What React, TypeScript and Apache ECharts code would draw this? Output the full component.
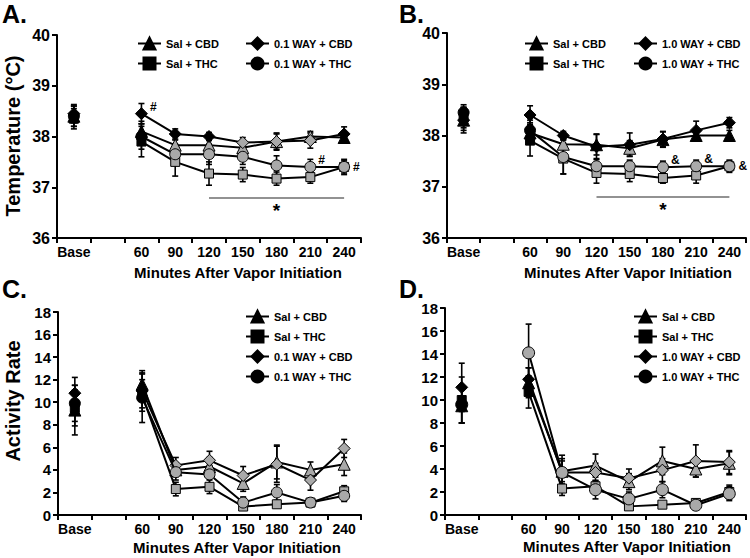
import React, { useEffect, useRef } from 'react';
import * as echarts from 'echarts';

const categories = ['Base', '', '60', '90', '120', '150', '180', '210', '240'];

// ---------- Panel A (0.1 WAY, temperature) ----------
const aSalCbd = [38.4, null, 38.1, 37.83, 37.83, 37.78, 37.9, 38.0, 37.98];
const aSalCbdErr = [0.2, null, 0.2, 0.1, 0.1, 0.1, 0.15, 0.1, 0.08];
const aSalCbdFill = [1, 0, 1, 0, 0, 0, 0, 0, 1];
const aSalThc = [38.35, null, 37.9, 37.5, 37.27, 37.25, 37.17, 37.2, 37.4];
const aSalThcErr = [0.2, null, 0.3, 0.28, 0.23, 0.14, 0.13, 0.12, 0.12];
const aSalThcFill = [1, 0, 1, 0, 0, 0, 0, 0, 0];
const aWayCbd = [38.45, null, 38.45, 38.05, 38.0, 37.88, 37.9, 37.92, 38.05];
const aWayCbdErr = [0.18, null, 0.2, 0.1, 0.08, 0.1, 0.17, 0.15, 0.14];
const aWayCbdFill = [1, 0, 1, 1, 1, 0, 0, 0, 1];
const aWayCbdMark = ['', '', '#', '', '', '', '', '', ''];
const aWayThc = [38.4, null, 38.0, 37.65, 37.65, 37.6, 37.43, 37.4, 37.4];
const aWayThcErr = [0.2, null, 0.25, 0.2, 0.2, 0.15, 0.19, 0.15, 0.15];
const aWayThcFill = [1, 0, 1, 0, 0, 0, 0, 0, 0];
const aWayThcMark = ['', '', '', '', '', '', '', '#', '#'];

// ---------- Panel B (1.0 WAY, temperature) ----------
const bSalCbd = [38.3, null, 38.05, 37.83, 37.82, 37.75, 37.92, 38.0, 38.0];
const bSalCbdErr = [0.2, null, 0.2, 0.1, 0.2, 0.15, 0.15, 0.1, 0.1];
const bSalCbdFill = [1, 0, 1, 0, 1, 0, 1, 1, 1];
const bSalThc = [38.35, null, 37.9, 37.55, 37.27, 37.25, 37.17, 37.22, 37.4];
const bSalThcErr = [0.2, null, 0.3, 0.3, 0.2, 0.15, 0.1, 0.15, 0.1];
const bSalThcFill = [1, 0, 1, 0, 0, 0, 0, 0, 0];
const bWayCbd = [38.3, null, 38.4, 38.0, 37.78, 37.82, 37.93, 38.1, 38.25];
const bWayCbdErr = [0.25, null, 0.18, 0.08, 0.25, 0.23, 0.15, 0.18, 0.1];
const bWayCbdFill = [1, 0, 1, 1, 1, 1, 1, 1, 1];
const bWayThc = [38.45, null, 38.1, 37.58, 37.4, 37.4, 37.38, 37.4, 37.4];
const bWayThcErr = [0.15, null, 0.2, 0.33, 0.15, 0.12, 0.12, 0.12, 0.12];
const bWayThcFill = [1, 0, 1, 0, 0, 0, 0, 0, 0];
const bWayThcMark = ['', '', '', '', '', '', '&', '&', '&'];

// ---------- Panel C (0.1 WAY, activity) ----------
const cSalCbd = [9.3, null, 11.6, 4.0, 4.3, 2.8, 4.7, 4.0, 4.5];
const cSalCbdErr = [2.2, null, 1.2, 0.6, 0.8, 0.7, 1.5, 0.7, 1.0];
const cSalThc = [9.5, null, 10.6, 2.3, 2.5, 0.75, 0.95, 1.1, 2.1];
const cSalThcErr = [1.6, null, 1.4, 0.6, 0.6, 0.2, 0.15, 0.1, 0.5];
const cWayCbd = [10.8, null, 11.0, 4.4, 4.85, 3.5, 4.5, 3.1, 5.9];
const cWayCbdErr = [1.4, null, 1.5, 0.7, 0.8, 0.8, 1.6, 0.9, 0.8];
const cWayThc = [9.9, null, 10.4, 3.8, 3.6, 1.1, 2.0, 1.1, 1.7];
const cWayThcErr = [1.6, null, 2.2, 0.7, 0.8, 0.5, 0.7, 0.15, 0.5];
const cFill = [1, 0, 1, 0, 0, 0, 0, 0, 0];

// ---------- Panel D (1.0 WAY, activity) ----------
const dSalCbd = [9.5, null, 11.5, 3.8, 4.3, 2.9, 4.7, 4.0, 4.5];
const dSalCbdErr = [1.5, null, 1.3, 1.4, 1.0, 0.7, 1.2, 0.7, 1.0];
const dSalThc = [10.0, null, 10.7, 2.3, 2.5, 0.75, 0.9, 1.05, 2.0];
const dSalThcErr = [2.0, null, 1.4, 0.6, 0.5, 0.2, 0.15, 0.1, 0.6];
const dWayCbd = [11.1, null, 11.8, 3.7, 3.7, 3.2, 3.9, 4.7, 4.6];
const dWayCbdErr = [2.1, null, 1.0, 1.2, 0.8, 0.8, 1.0, 1.4, 1.0];
const dWayThc = [9.6, null, 14.1, 3.7, 2.2, 1.4, 2.2, 0.85, 1.85];
const dWayThcErr = [1.6, null, 2.5, 1.0, 0.8, 0.6, 0.7, 0.1, 0.6];
const dFill = [1, 0, 1, 0, 0, 0, 0, 0, 0];
const dWayThcFill = [1, 0, 0, 0, 0, 0, 0, 0, 0];

// significance bar (panels A, B)
const sigFrom = '120';
const sigTo = '240';
const sigLineY = 36.8;
const sigStarAt = '180';
const sigStarY = 36.55;

const FONT = '"Liberation Sans", Arial, Helvetica, sans-serif';
const GRAY = '#a9a9a9';

type S = {
  name: string;
  symbol: string;
  size: number;
  values: (number | null)[];
  errs: (number | null)[];
  fills: number[];
  marks?: string[];
};

const SYM = { tri: 'triangle', sq: 'rect', dia: 'diamond', cir: 'circle' };

function seriesFor(list: S[], gi: number, sig: boolean) {
  const out: any[] = [];
  list.forEach((s) => {
    // error bars
    out.push({
      type: 'custom',
      xAxisIndex: gi,
      yAxisIndex: gi,
      silent: true,
      z: 2,
      data: s.values
        .map((v, i) => (v == null ? null : [i, v - (s.errs[i] as number), v + (s.errs[i] as number)]))
        .filter((d) => d != null),
      encode: { x: 0, y: [1, 2] },
      renderItem: (params: any, api: any) => {
        const x = api.value(0);
        const lo = api.coord([x, api.value(1)]);
        const hi = api.coord([x, api.value(2)]);
        const cw = 3;
        const st = { stroke: '#000', lineWidth: 1.6 };
        return {
          type: 'group',
          children: [
            { type: 'line', shape: { x1: lo[0], y1: lo[1], x2: hi[0], y2: hi[1] }, style: st },
            { type: 'line', shape: { x1: lo[0] - cw, y1: lo[1], x2: lo[0] + cw, y2: lo[1] }, style: st },
            { type: 'line', shape: { x1: hi[0] - cw, y1: hi[1], x2: hi[0] + cw, y2: hi[1] }, style: st },
          ],
        };
      },
    });
  });
  list.forEach((s, k) => {
    const ser: any = {
      type: 'line',
      name: s.name,
      xAxisIndex: gi,
      yAxisIndex: gi,
      symbol: s.symbol,
      symbolSize: s.size,
      showAllSymbol: true,
      color: '#000',
      z: 3 + k,
      lineStyle: { color: '#000', width: 2 },
      itemStyle: { color: '#000', borderColor: '#000', borderWidth: 1 },
      emphasis: { disabled: true },
      data: s.values.map((v, i) => {
        if (v == null) return '-';
        const item: any = {
          value: v,
          itemStyle: { color: s.fills[i] ? '#000' : GRAY, borderColor: '#000', borderWidth: 1 },
        };
        const m = s.marks ? s.marks[i] : '';
        if (m) {
          item.label = {
            show: true,
            formatter: m,
            position: 'right',
            distance: 3,
            offset: i === categories.length - 1 ? [0, 0] : [-1, -7],
            color: '#000',
            fontFamily: FONT,
            fontWeight: 'bold',
            fontSize: 12,
          };
        }
        return item;
      }),
    };
    if (sig && k === 0) {
      ser.markLine = {
        silent: true,
        symbol: ['none', 'none'],
        label: { show: false },
        lineStyle: { color: '#6e6e6e', width: 1.6, type: 'solid' },
        data: [[{ coord: [sigFrom, sigLineY] }, { coord: [sigTo, sigLineY] }]],
      };
      ser.markPoint = {
        silent: true,
        symbol: 'circle',
        symbolSize: 0,
        label: {
          show: true,
          position: 'inside',
          formatter: '*',
          color: '#000',
          fontFamily: FONT,
          fontWeight: 'bold',
          fontSize: 19,
        },
        data: [{ coord: [sigStarAt, sigStarY] }],
      };
    }
    out.push(ser);
  });
  return out;
}

const grids = [
  { left: 57, top: 35, width: 304, height: 203 },
  { left: 447, top: 33, width: 299, height: 205 },
  { left: 58, top: 312, width: 303, height: 203 },
  { left: 445, top: 308, width: 301, height: 207 },
];

function xAxisFor(gi: number) {
  return {
    type: 'category',
    gridIndex: gi,
    data: categories,
    boundaryGap: true,
    axisLine: { lineStyle: { color: '#000', width: 2 } },
    axisTick: { show: true, interval: 0, length: 5, lineStyle: { color: '#000', width: 2 } },
    axisLabel: {
      interval: 0,
      color: '#000',
      fontFamily: FONT,
      fontWeight: 'bold',
      fontSize: 14,
      margin: 7,
    },
    splitLine: { show: false },
  };
}

function yAxisFor(gi: number, min: number, max: number, interval: number, fs: number) {
  return {
    type: 'value',
    gridIndex: gi,
    min,
    max,
    interval,
    axisLine: { show: true, lineStyle: { color: '#000', width: 2 } },
    axisTick: { show: true, length: 5, lineStyle: { color: '#000', width: 2 } },
    axisLabel: { color: '#000', fontFamily: FONT, fontWeight: 'bold', fontSize: fs, margin: 7 },
    splitLine: { show: false },
  };
}

function legendFor(left: number, top: number, names: string[]) {
  return {
    orient: 'vertical',
    left,
    top,
    padding: 0,
    itemWidth: 23,
    itemHeight: 15,
    itemGap: 6,
    selectedMode: false,
    data: names,
    textStyle: { color: '#000', fontFamily: FONT, fontWeight: 'bold', fontSize: 11 },
  };
}

function textEl(text: string, x: number, y: number, fs: number, rot = 0, align = 'center') {
  return {
    type: 'text',
    x,
    y,
    rotation: rot,
    silent: true,
    style: {
      text,
      fill: '#000',
      font: `bold ${fs}px ${FONT}`,
      textAlign: align,
      textVerticalAlign: 'middle',
    },
  };
}

export default function App() {
  const ref = useRef<HTMLDivElement>(null);
  useEffect(() => {
    if (!ref.current) return;
    const chart = echarts.init(ref.current, null, { renderer: 'svg' });

    const panelA: S[] = [
      { name: 'Sal + CBD', symbol: SYM.tri, size: 12, values: aSalCbd, errs: aSalCbdErr, fills: aSalCbdFill },
      { name: 'Sal + THC', symbol: SYM.sq, size: 9, values: aSalThc, errs: aSalThcErr, fills: aSalThcFill },
      { name: '0.1 WAY + CBD', symbol: SYM.dia, size: 12, values: aWayCbd, errs: aWayCbdErr, fills: aWayCbdFill, marks: aWayCbdMark },
      { name: '0.1 WAY + THC', symbol: SYM.cir, size: 11, values: aWayThc, errs: aWayThcErr, fills: aWayThcFill, marks: aWayThcMark },
    ];
    const panelB: S[] = [
      { name: 'Sal + CBD', symbol: SYM.tri, size: 12, values: bSalCbd, errs: bSalCbdErr, fills: bSalCbdFill },
      { name: 'Sal + THC', symbol: SYM.sq, size: 9, values: bSalThc, errs: bSalThcErr, fills: bSalThcFill },
      { name: '1.0 WAY + CBD', symbol: SYM.dia, size: 12, values: bWayCbd, errs: bWayCbdErr, fills: bWayCbdFill },
      { name: '1.0 WAY + THC', symbol: SYM.cir, size: 11, values: bWayThc, errs: bWayThcErr, fills: bWayThcFill, marks: bWayThcMark },
    ];
    const panelC: S[] = [
      { name: 'Sal + CBD', symbol: SYM.tri, size: 12, values: cSalCbd, errs: cSalCbdErr, fills: cFill },
      { name: 'Sal + THC', symbol: SYM.sq, size: 9, values: cSalThc, errs: cSalThcErr, fills: cFill },
      { name: '0.1 WAY + CBD', symbol: SYM.dia, size: 12, values: cWayCbd, errs: cWayCbdErr, fills: cFill },
      { name: '0.1 WAY + THC', symbol: SYM.cir, size: 11, values: cWayThc, errs: cWayThcErr, fills: cFill },
    ];
    const panelD: S[] = [
      { name: 'Sal + CBD', symbol: SYM.tri, size: 12, values: dSalCbd, errs: dSalCbdErr, fills: dFill },
      { name: 'Sal + THC', symbol: SYM.sq, size: 9, values: dSalThc, errs: dSalThcErr, fills: dFill },
      { name: '1.0 WAY + CBD', symbol: SYM.dia, size: 12, values: dWayCbd, errs: dWayCbdErr, fills: dFill },
      { name: '1.0 WAY + THC', symbol: SYM.cir, size: 12, values: dWayThc, errs: dWayThcErr, fills: dWayThcFill },
    ];

    const option: any = {
      animation: false,
      backgroundColor: '#fff',
      grid: grids,
      xAxis: [0, 1, 2, 3].map((i) => xAxisFor(i)),
      yAxis: [
        yAxisFor(0, 36, 40, 1, 16),
        yAxisFor(1, 36, 40, 1, 16),
        yAxisFor(2, 0, 18, 2, 15),
        yAxisFor(3, 0, 18, 2, 15),
      ],
      legend: [
        legendFor(137, 36.5, ['Sal + CBD', 'Sal + THC']),
        legendFor(245, 36.5, ['0.1 WAY + CBD', '0.1 WAY + THC']),
        legendFor(524, 36.5, ['Sal + CBD', 'Sal + THC']),
        legendFor(633, 36.5, ['1.0 WAY + CBD', '1.0 WAY + THC']),
        legendFor(245, 309.5, ['Sal + CBD', 'Sal + THC', '0.1 WAY + CBD', '0.1 WAY + THC']),
        legendFor(633, 309.5, ['Sal + CBD', 'Sal + THC', '1.0 WAY + CBD', '1.0 WAY + THC']),
      ],
      graphic: [
        textEl('A.', 2, 14, 25, 0, 'left'),
        textEl('B.', 399, 14, 25, 0, 'left'),
        textEl('C.', 2, 289, 25, 0, 'left'),
        textEl('D.', 399, 289, 25, 0, 'left'),
        textEl('Temperature (°C)', 13, 136, 20, Math.PI / 2),
        textEl('Activity Rate', 13, 401, 20, Math.PI / 2),
        textEl('Minutes After Vapor Initiation', 238, 272, 15),
        textEl('Minutes After Vapor Initiation', 628, 272, 15),
        textEl('Minutes After Vapor Initiation', 237, 547, 15),
        textEl('Minutes After Vapor Initiation', 627, 546, 15),
      ],
      series: [
        ...seriesFor(panelA, 0, true),
        ...seriesFor(panelB, 1, true),
        ...seriesFor(panelC, 2, false),
        ...seriesFor(panelD, 3, false),
      ],
    };
    chart.setOption(option);
    return () => chart.dispose();
  }, []);
  return (
    <div
      ref={ref}
      style={{ position: 'absolute', left: 0, top: 0, width: 750, height: 558, background: '#fff' }}
    />
  );
}
